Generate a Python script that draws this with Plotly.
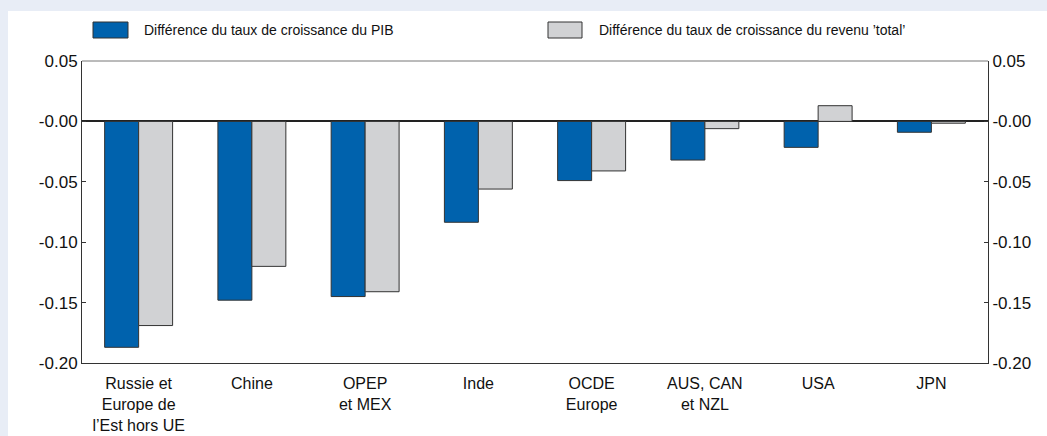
import plotly.graph_objects as go

categories = ["Russie et<br>Europe de<br>l’Est hors UE", "Chine", "OPEP<br>et MEX", "Inde",
              "OCDE<br>Europe", "AUS, CAN<br>et NZL", "USA", "JPN"]
gdp_diff = [-0.187, -0.148, -0.145, -0.0835, -0.049, -0.032, -0.0215, -0.009]
income_diff = [-0.169, -0.120, -0.141, -0.056, -0.041, -0.006, 0.013, -0.0015]
series_names = ["Différence du taux de croissance du PIB",
                "Différence du taux de croissance du revenu ’total’"]
tick_vals = [-0.20, -0.15, -0.10, -0.05, 0.0, 0.05]
tick_text = ["-0.20", "-0.15", "-0.10", "-0.05", "-0.00", "0.05"]

BLUE = "#0062ad"
GREY = "#d1d2d4"
EDGE = "#333333"
PANEL_BG = "#e8edf6"
FONT = "Liberation Sans, Arial, sans-serif"

fig = go.Figure()
fig.add_trace(go.Bar(x=categories, y=gdp_diff, name=series_names[0],
                     marker=dict(color=BLUE, line=dict(color=EDGE, width=1))))
fig.add_trace(go.Bar(x=categories, y=income_diff, name=series_names[1],
                     marker=dict(color=GREY, line=dict(color=EDGE, width=1))))
# invisible trace to carry right axis
fig.add_trace(go.Scatter(x=[categories[0]], y=[0], yaxis="y2", mode="markers",
                         marker=dict(opacity=0), showlegend=False, hoverinfo="skip"))

W, H = 1047, 436
L, R, T, B = 82, 59, 61, 73
pw, ph = W - L - R, H - T - B

def px_x(x):
    return (x - L) / pw

def px_y(y):
    return (H - B - y) / ph

shapes = [
    # light frame strips (top and left)
    dict(type="rect", xref="paper", yref="paper", x0=px_x(-5), x1=px_x(W + 5),
         y0=px_y(11), y1=px_y(-5), fillcolor=PANEL_BG, line=dict(width=0), layer="below"),
    dict(type="rect", xref="paper", yref="paper", x0=px_x(-5), x1=px_x(8),
         y0=px_y(H + 5), y1=px_y(-5), fillcolor=PANEL_BG, line=dict(width=0), layer="below"),
    # top frame line
    dict(type="line", xref="paper", yref="paper", x0=0, x1=1, y0=1, y1=1,
         line=dict(color="#777777", width=1)),
    # legend swatches
    dict(type="rect", xref="paper", yref="paper", x0=px_x(93), x1=px_x(128),
         y0=px_y(38), y1=px_y(22), fillcolor=BLUE, line=dict(color=EDGE, width=1)),
    dict(type="rect", xref="paper", yref="paper", x0=px_x(548), x1=px_x(582),
         y0=px_y(38), y1=px_y(22), fillcolor=GREY, line=dict(color=EDGE, width=1)),
]
annotations = [
    dict(xref="paper", yref="paper", x=px_x(142), y=px_y(30), text=series_names[0],
         showarrow=False, xanchor="left", yanchor="middle", font=dict(size=14, color="#111")),
    dict(xref="paper", yref="paper", x=px_x(597), y=px_y(30), text=series_names[1],
         showarrow=False, xanchor="left", yanchor="middle", font=dict(size=14, color="#111")),
]

axis_common = dict(range=[-0.2, 0.05], tickvals=tick_vals, ticktext=tick_text,
                   ticks="inside", ticklen=4, tickcolor=EDGE, showgrid=False,
                   showline=True, linecolor=EDGE, linewidth=1,
                   tickfont=dict(size=17, color="#111"))

fig.update_layout(
    width=W, height=H,
    margin=dict(l=L, r=R, t=T, b=B, autoexpand=False),
    paper_bgcolor="white", plot_bgcolor="white",
    font=dict(family=FONT, color="#111"),
    barmode="group", bargap=0.4, bargroupgap=0,
    showlegend=False,
    shapes=shapes, annotations=annotations,
    xaxis=dict(showline=True, linecolor=EDGE, linewidth=1, ticks="", showgrid=False,
               tickfont=dict(size=16, color="#111"), ticklabelstandoff=6),
    yaxis=dict(**axis_common, zeroline=True, zerolinecolor="#222222", zerolinewidth=2),
    yaxis2=dict(**axis_common, overlaying="y", side="right", zeroline=False),
)

fig.write_html("out.html", config={"displayModeBar": False},
               post_script="document.body.style.margin='0';document.body.style.overflow='hidden';"
                           "document.documentElement.style.overflow='hidden';")
